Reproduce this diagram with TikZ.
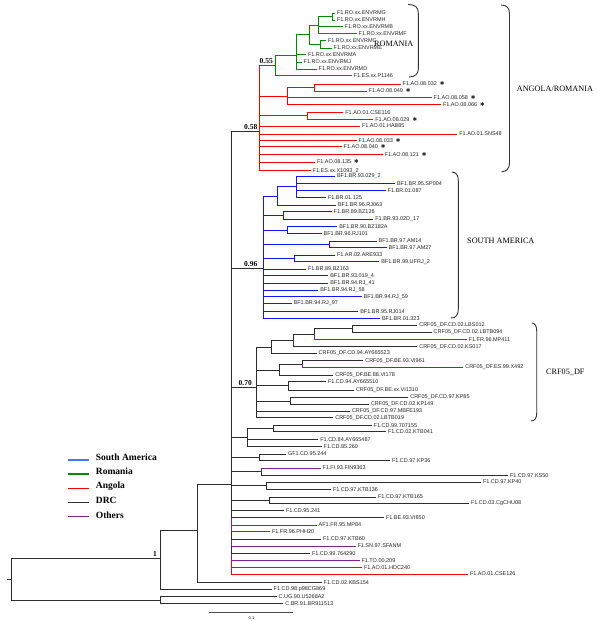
\documentclass[tikz,border=0pt]{standalone}
\usepackage{fontspec}
\setmainfont{Liberation Serif}
\newfontfamily\labfont{Liberation Sans}
\newfontfamily\symfont{DejaVu Sans}
\definecolor{dk}{RGB}{45,45,45}
\definecolor{rd}{RGB}{255,0,0}
\definecolor{gn}{RGB}{0,140,0}
\definecolor{bl}{RGB}{20,20,255}
\definecolor{pu}{RGB}{128,32,150}
\definecolor{lgblue}{RGB}{70,120,255}
\newcommand{\sx}{\hspace{3pt}{\symfont\fontsize{5.5}{5.5}\selectfont ✱}}
\tikzset{
 br/.style={line width=1pt, dk},
 lbl/.style={anchor=west, inner xsep=1.8pt, inner ysep=0pt, font=\labfont\fontsize{5.5}{5.5}\selectfont, text=black!85},
 boot/.style={anchor=south east, inner sep=0pt, font=\bfseries\fontsize{7.5}{7.5}\selectfont},
 brc/.style={line width=0.9pt, black!80},
 reg/.style={inner sep=0pt, font=\fontsize{8.2}{8.2}\selectfont},
 leg/.style={font=\bfseries\fontsize{9.5}{9.5}\selectfont, anchor=west, inner sep=0pt},
 lgl/.style={line width=1.3pt},
}
\newcommand{\tip}[6][dk]{\node[lbl] (#2) at (#5,#4) {#6}; \draw[br,#1] (#3) |- (#2.west);}
\newcommand{\inn}[5][dk]{\coordinate (#2) at (#4,#5); \draw[br,#1] (#3) |- (#2);}
\begin{document}
\begin{tikzpicture}[x=1pt,y=-1pt]
\useasboundingbox (0,0) rectangle (600,621);
\fill[white] (0,0) rectangle (600,621);
% root and outgroup
\coordinate (root) at (11.7,579);
\coordinate (stub) at (7.3,579);
\draw[br] (stub) -- (root);
\inn{n160}{root}{160}{558.5}
\inn{og}{root}{160}{600}
\tip{cug}{og}{596.7}{276.7}{C.UG.90.U5268A2}
\tip{cbr}{og}{603.2}{283.3}{C.BR.91.BR911513}
\inn{n197}{n160}{197.3}{530}
\tip{p98}{n160}{589.5}{271.7}{F1.CD.98.p98CG869}
\inn{poly}{n197}{231.3}{484}
\tip{kbs}{n197}{582.3}{321.7}{F1.CD.02.KBS154}
\node[boot] (b1) at (157,557) {1};
% lower polytomy children (bottom up)
\tip[rd]{cse126}{poly}{574}{468}{F1.AO.01.CSE126}
\tip[rd]{hdc}{poly}{567.7}{362}{F1.AO.01.HDC240}
\tip[pu]{to209}{poly}{560.7}{359.5}{F1.TO.00.209}
\tip{c764}{poly}{553.3}{310}{F1.CD.99.764290}
\tip[pu]{sfanm}{poly}{546}{355.5}{F1.SN.97.SFANM}
\tip{ktb60}{poly}{539}{321}{F1.CD.97.KTB60}
\tip[pu]{phh}{poly}{531.8}{270}{F1.FR.96.PHH20}
\tip[pu]{mp84}{poly}{525}{316.7}{AF1.FR.95.MP84}
\tip{vi850}{poly}{517.7}{384}{F1.BE.93.VI850}
\tip{c241}{poly}{510.7}{284}{F1.CD.95.241}
\inn{n269}{poly}{269}{500.3}
\tip{ktb165}{n269}{497}{376}{F1.CD.97.KTB165}
\tip{cgchu}{n269}{503.5}{469}{F1.CD.03.CgCHU08}
\inn{n266}{poly}{266}{485.5}
\tip{kp40}{n266}{482}{481}{F1.CD.97.KP40}
\tip{ktb136}{n266}{489.3}{331}{F1.CD.97.KTB136}
\inn{n261}{poly}{261.3}{471.7}
\tip[pu]{fin}{n261}{468}{320.5}{F1.FI.93.FIN9363}
\tip{ks50}{n261}{475.3}{508}{F1.CD.97.KS50}
\inn{n259b}{poly}{259.3}{457}
\tip{gf244}{n259b}{454}{286}{GF1.CD.95.244}
\tip{kp36}{n259b}{460.3}{390}{F1.CD.97.KP36}
\inn{n247}{poly}{247.7}{437.7}
\inn{n273}{n247}{273.3}{428.7}
\tip{c707}{n273}{425.7}{371.7}{F1.CD.99.707155}
\tip{ktb041}{n273}{431.7}{386}{F1.CD.02.KTB041}
\tip{ay487}{n247}{439.3}{318.3}{F1.CD.84.AY665487}
\tip{c260}{n247}{446.7}{321.7}{F1.CD.85.260}
% CRF05_DF clade
\inn{crf}{poly}{256.5}{387.7}
\node[boot] (b70) at (252,386.3) {0.70};
\inn{n271}{crf}{271.7}{347}
\inn{n293}{n271}{293.3}{340.5}
\inn{n314c}{n293}{314.3}{334}
\inn{n352}{n314c}{352.7}{328.7}
\tip{lbs012}{n352}{325}{417.3}{CRF05\_DF.CD.02.LBS012}
\tip{lbtb094}{n352}{332.3}{431.7}{CRF05\_DF.CD.02.LBTB094}
\tip[pu]{mp411}{n314c}{339.3}{466.7}{F1.FR.96.MP411}
\tip{ks017}{n293}{346.7}{417.3}{CRF05\_DF.CD.02.KS017}
\tip{ay523}{n271}{353.3}{316.7}{CRF05\_DF.CD.94.AY665523}
\inn{n279}{crf}{279.3}{370}
\inn{n302}{n279}{302.7}{364}
\tip{vi961}{n302}{360.7}{363.3}{CRF05\_DF.BE.93.VI961}
\tip[pu]{x492}{n302}{367.5}{463.3}{CRF05\_DF.ES.99.X492}
\tip{vi178}{n279}{375}{333.3}{CRF05\_DF.BE.88.VI178}
\inn{n288}{crf}{288.3}{385.8}
\tip{ay510}{n288}{381.7}{326}{F1.CD.94.AY665510}
\tip{vi1310}{n288}{390}{354}{CRF05\_DF.BE.xx.VI1310}
\inn{nkp}{crf}{290.7}{401}
\tip{kp85}{nkp}{397.3}{408.3}{CRF05\_DF.CD.97.KP85}
\tip{kp149}{nkp}{404.3}{369}{CRF05\_DF.CD.02.KP149}
\tip{mbfe}{crf}{411}{350}{CRF05\_DF.CD.97.MBFE193}
\tip{lbtb019}{crf}{417.7}{333.3}{CRF05\_DF.CD.02.LBTB019}
% South America clade
\inn{sa}{poly}{263.3}{268.3}
\node[boot] (b96) at (257.5,267) {0.96};
\inn[bl]{nb}{sa}{277.3}{196}
\inn[bl]{na}{nb}{296}{186.8}
\tip[bl]{s029}{na}{176}{335}{BF1.BR.93.029\_2}
\tip[bl]{sp004}{na}{183.3}{395}{BF1.BR.95.SP004}
\tip[bl]{s087}{na}{190.3}{385.7}{F1.BR.01.087}
\tip[bl]{s125}{na}{197.7}{326}{F1.BR.01.125}
\tip[bl]{rj063}{nb}{205}{336}{BF1.BR.96.RJ063}
\inn[bl]{nbz}{sa}{283.3}{215.3}
\tip[bl]{bz126}{nbz}{211.7}{331.7}{F1.BR.89.BZ126}
\tip[bl]{d17}{nbz}{219}{373.3}{F1.BR.93.02D\_17}
\inn[bl]{nbz2}{sa}{287.3}{230}
\tip[bl]{bz182}{nbz2}{226.7}{337.3}{BF1.BR.90.BZ182A}
\tip[bl]{rj101}{nbz2}{233.3}{321.7}{BF1.BR.96.RJ101}
\inn[bl]{nam}{sa}{329}{244.2}
\tip[bl]{am14}{nam}{241}{376.7}{BF1.BR.97.AM14}
\tip[bl]{am27}{nam}{247.3}{386.7}{BF1.BR.97.AM27}
\inn[bl]{nar}{sa}{294}{258.3}
\tip[bl]{are}{nar}{255}{335}{F1.AR.02.ARE933}
\tip[bl]{ufrj}{nar}{261.7}{379.3}{BF1.BR.99.UFRJ\_2}
\tip[bl]{bz163}{sa}{269}{306}{F1.BR.89.BZ163}
\tip[bl]{s0194}{sa}{275.7}{328.3}{BF1.BR.93.019\_4}
\tip[bl]{rj41}{sa}{283.3}{328.3}{BF1.BR.94.RJ\_41}
\tip[bl]{rj58}{sa}{290}{318.3}{BF1.BR.94.RJ\_58}
\tip[bl]{rj59}{sa}{296.7}{361.7}{BF1.BR.94.RJ\_59}
\tip[bl]{rj97}{sa}{303.3}{291.7}{BF1.BR.94.RJ\_97}
\tip[bl]{rj014}{sa}{311.7}{358.3}{BF1.BR.95.RJ014}
\tip[bl]{s323}{sa}{318.3}{380}{BF1.BR.01.323}
% Angola / Romania clade
\inn{ang}{poly}{259.3}{131.7}
\node[boot] (b58) at (257.5,130.3) {0.58};
\inn[rd]{rom}{ang}{275}{65.7}
\node[boot] (b55) at (273,64.3) {0.55};
\inn[rd]{n287}{ang}{287.7}{96}
\inn[rd]{n314}{n287}{314}{87.5}
\tip[rd]{a032}{n314}{84}{400.7}{F1.AO.08.032\sx}
\tip[rd]{a049}{n314}{91}{366.7}{F1.AO.08.049\sx}
\tip[rd]{a058}{n287}{97.7}{431.7}{F1.AO.08.058\sx}
\tip[rd]{a066}{n287}{104.3}{441}{F1.AO.08.066\sx}
\inn[rd]{n307}{ang}{307.7}{115.8}
\tip[rd]{cse116}{n307}{112.3}{343.3}{F1.AO.01.CSE116}
\tip[rd]{a029}{n307}{119.3}{373.3}{F1.AO.08.029\sx}
\tip[rd]{hab}{ang}{126}{360}{F1.AO.01.HAB85}
\tip[rd]{sns}{ang}{134}{457.3}{F1.AO.01.SNS48}
\tip[rd]{a033}{ang}{140.7}{356.7}{F1.AO.08.033\sx}
\tip[rd]{a040}{ang}{146.7}{341.7}{F1.AO.08.040\sx}
\tip[rd]{a121}{ang}{154.7}{382.7}{F1.AO.08.121\sx}
\tip[rd]{a135}{ang}{162}{315}{F1.AO.08.135\sx}
\tip[rd]{x1093}{ang}{170.7}{310.7}{F1.ES.xx.X1093\_2}
% Romania
\inn[gn]{n296}{rom}{296}{55}
\tip[gn]{p1146}{rom}{75.7}{351.7}{F1.ES.xx.P1146}
\inn[gn]{n309}{n296}{309.3}{34.7}
\tip[gn]{rma}{n296}{54.7}{306}{F1.RO.xx.ENVRMA}
\tip[gn]{rmj}{n296}{62}{301.7}{F1.RO.xx.ENVRMJ}
\tip[gn]{rmd}{n296}{69}{316.7}{F1.RO.xx.ENVRMD}
\inn[gn]{n318}{n309}{318.7}{25}
\inn[gn]{nce}{n309}{320}{44.3}
\inn[gn]{ngh}{n318}{332.7}{16.5}
\tip[gn]{rmb}{n318}{26.3}{342.7}{F1.RO.xx.ENVRMB}
\tip[gn]{rmf}{n318}{33.7}{356.7}{F1.RO.xx.ENVRMF}
\tip[gn]{rmg}{ngh}{13}{335}{F1.RO.xx.ENVRMG}
\tip[gn]{rmh}{ngh}{20}{335}{F1.RO.xx.ENVRMH}
\tip[gn]{rmc}{nce}{40.7}{326}{F1.RO.xx.ENVRMC}
\tip[gn]{rme}{nce}{48}{331.7}{F1.RO.xx.ENVRME}
% braces and region labels
\draw[brc] (408,4.5) .. controls (415,4.5) and (418.3,7) .. (418.3,13) -- (418.3,69) .. controls (418.3,74) and (415,77) .. (409,77);
\draw[brc] (501,5) .. controls (507,5) and (509.5,8) .. (509.5,14) -- (509.5,163) .. controls (509.5,168) and (507,171.7) .. (501.7,171.7);
\draw[brc] (451.7,172) .. controls (456,172) and (458.3,175) .. (458.3,181) -- (458.3,309) .. controls (458.3,315) and (456,318) .. (451,318);
\draw[brc] (531.7,323) .. controls (535,323) and (536.7,326) .. (536.7,331) -- (536.7,413) .. controls (536.7,418) and (535,421) .. (531,421);
\node[reg, anchor=east] (romlab) at (413.5,43.5) {ROMANIA};
\node[reg, anchor=west] (angrom) at (516.7,89.3) {ANGOLA/ROMANIA};
\node[reg, anchor=west] (salab) at (467,241) {SOUTH AMERICA};
\node[reg, anchor=west] (crflab) at (546,372) {CRF05\_DF};
% legend
\coordinate (lg1a) at (68.3,460); \coordinate (lg1b) at (89.3,460);
\coordinate (lg2a) at (68.3,474); \coordinate (lg2b) at (89.3,474);
\coordinate (lg3a) at (68.3,488.3); \coordinate (lg3b) at (89.3,488.3);
\coordinate (lg4a) at (68.3,502.7); \coordinate (lg4b) at (89.3,502.7);
\coordinate (lg5a) at (68.3,516.7); \coordinate (lg5b) at (89.3,516.7);
\draw[lgl, lgblue] (lg1a) -- (lg1b);
\draw[lgl, gn] (lg2a) -- (lg2b);
\draw[lgl, rd] (lg3a) -- (lg3b);
\draw[lgl, dk] (lg4a) -- (lg4b);
\draw[lgl, pu] (lg5a) -- (lg5b);
\node[leg] (lgt1) at (95.7,457.3) {South America};
\node[leg] (lgt2) at (95.7,471.7) {Romania};
\node[leg] (lgt3) at (95.7,486.2) {Angola};
\node[leg] (lgt4) at (95.7,500.6) {DRC};
\node[leg] (lgt5) at (95.7,514.8) {Others};
% scale bar
\coordinate (sb1) at (209.3,612); \coordinate (sb2) at (293.3,612);
\draw[line width=0.5pt, black!70] (sb1) -- (sb2);
\node[inner sep=0pt, font=\labfont\fontsize{4}{4}\selectfont] (sbl) at (251.5,618.3) {0.1};
\end{tikzpicture}
\end{document}
